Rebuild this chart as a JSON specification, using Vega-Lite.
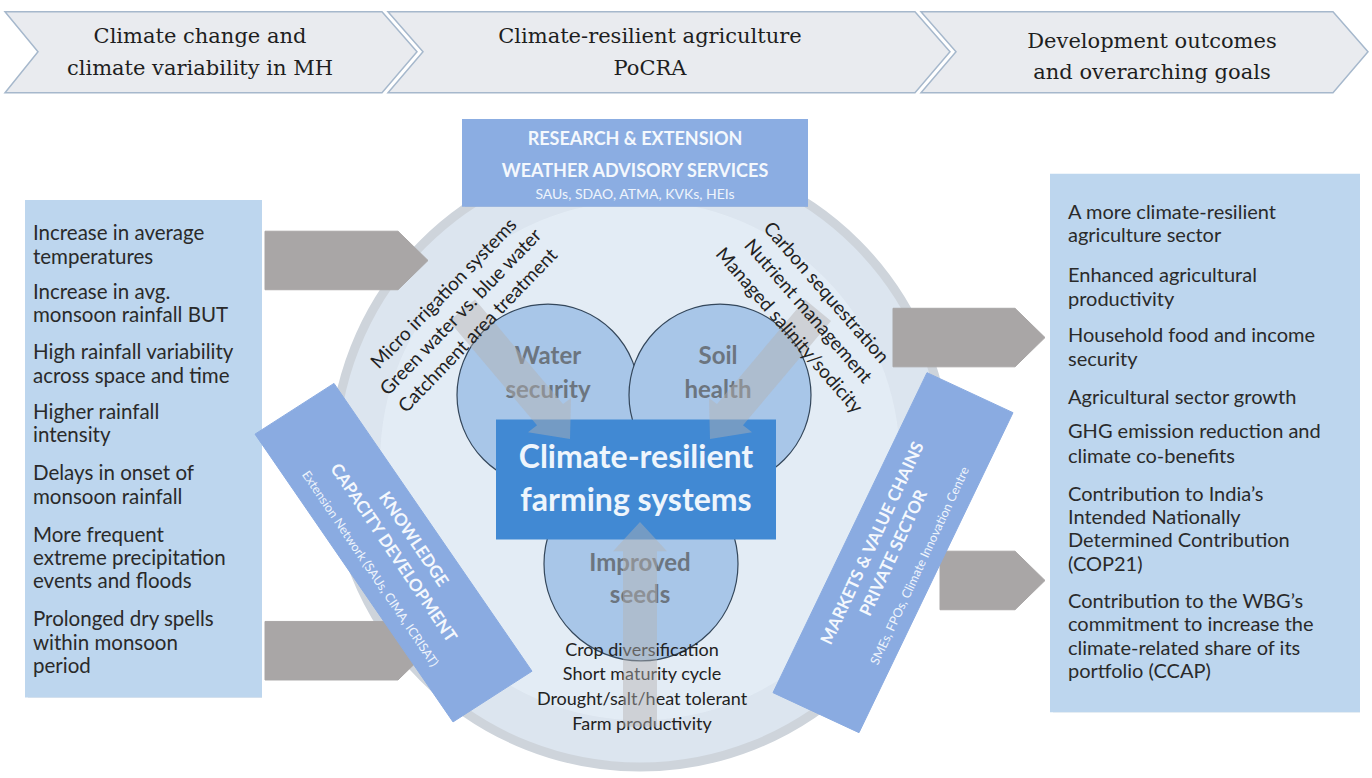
{
  "$schema": "https://vega.github.io/schema/vega-lite/v6.json",
  "width": 1372,
  "height": 778,
  "autosize": {"type": "fit", "contains": "padding"},
  "padding": 0,
  "background": "#ffffff",
  "config": {"view": {"stroke": null}},
  "datasets": {
    "polys": [
      {"grp": "chev", "id": "c1", "ord": 1, "x": 5, "y": 12},
      {"grp": "chev", "id": "c1", "ord": 2, "x": 382, "y": 12},
      {"grp": "chev", "id": "c1", "ord": 3, "x": 417, "y": 53},
      {"grp": "chev", "id": "c1", "ord": 4, "x": 382, "y": 95},
      {"grp": "chev", "id": "c1", "ord": 5, "x": 5, "y": 95},
      {"grp": "chev", "id": "c1", "ord": 6, "x": 38, "y": 53},
      {"grp": "chev", "id": "c2", "ord": 1, "x": 388, "y": 12},
      {"grp": "chev", "id": "c2", "ord": 2, "x": 915, "y": 12},
      {"grp": "chev", "id": "c2", "ord": 3, "x": 950, "y": 53},
      {"grp": "chev", "id": "c2", "ord": 4, "x": 915, "y": 95},
      {"grp": "chev", "id": "c2", "ord": 5, "x": 388, "y": 95},
      {"grp": "chev", "id": "c2", "ord": 6, "x": 423, "y": 53},
      {"grp": "chev", "id": "c3", "ord": 1, "x": 921, "y": 12},
      {"grp": "chev", "id": "c3", "ord": 2, "x": 1333, "y": 12},
      {"grp": "chev", "id": "c3", "ord": 3, "x": 1368, "y": 53},
      {"grp": "chev", "id": "c3", "ord": 4, "x": 1333, "y": 95},
      {"grp": "chev", "id": "c3", "ord": 5, "x": 921, "y": 95},
      {"grp": "chev", "id": "c3", "ord": 6, "x": 956, "y": 53},
      {"grp": "garrow", "id": "a1", "ord": 1, "x": 265, "y": 237},
      {"grp": "garrow", "id": "a1", "ord": 2, "x": 398, "y": 237},
      {"grp": "garrow", "id": "a1", "ord": 3, "x": 428, "y": 267},
      {"grp": "garrow", "id": "a1", "ord": 4, "x": 398, "y": 297},
      {"grp": "garrow", "id": "a1", "ord": 5, "x": 265, "y": 297},
      {"grp": "garrow", "id": "a2", "ord": 1, "x": 265, "y": 637},
      {"grp": "garrow", "id": "a2", "ord": 2, "x": 398, "y": 637},
      {"grp": "garrow", "id": "a2", "ord": 3, "x": 428, "y": 667},
      {"grp": "garrow", "id": "a2", "ord": 4, "x": 398, "y": 697},
      {"grp": "garrow", "id": "a2", "ord": 5, "x": 265, "y": 697},
      {"grp": "garrow", "id": "a3", "ord": 1, "x": 893, "y": 316},
      {"grp": "garrow", "id": "a3", "ord": 2, "x": 1015, "y": 316},
      {"grp": "garrow", "id": "a3", "ord": 3, "x": 1045, "y": 346},
      {"grp": "garrow", "id": "a3", "ord": 4, "x": 1015, "y": 376},
      {"grp": "garrow", "id": "a3", "ord": 5, "x": 893, "y": 376},
      {"grp": "garrow", "id": "a4", "ord": 1, "x": 940, "y": 565},
      {"grp": "garrow", "id": "a4", "ord": 2, "x": 1015, "y": 565},
      {"grp": "garrow", "id": "a4", "ord": 3, "x": 1045, "y": 595},
      {"grp": "garrow", "id": "a4", "ord": 4, "x": 1015, "y": 625},
      {"grp": "garrow", "id": "a4", "ord": 5, "x": 940, "y": 625},
      {"grp": "farrow", "id": "f1", "ord": 1, "x": 475, "y": 307},
      {"grp": "farrow", "id": "f1", "ord": 2, "x": 563, "y": 414},
      {"grp": "farrow", "id": "f1", "ord": 3, "x": 571, "y": 408},
      {"grp": "farrow", "id": "f1", "ord": 4, "x": 570, "y": 450},
      {"grp": "farrow", "id": "f1", "ord": 5, "x": 528, "y": 443},
      {"grp": "farrow", "id": "f1", "ord": 6, "x": 537, "y": 436},
      {"grp": "farrow", "id": "f1", "ord": 7, "x": 449, "y": 329},
      {"grp": "farrow", "id": "f2", "ord": 1, "x": 805, "y": 307},
      {"grp": "farrow", "id": "f2", "ord": 2, "x": 717, "y": 414},
      {"grp": "farrow", "id": "f2", "ord": 3, "x": 709, "y": 408},
      {"grp": "farrow", "id": "f2", "ord": 4, "x": 710, "y": 450},
      {"grp": "farrow", "id": "f2", "ord": 5, "x": 752, "y": 443},
      {"grp": "farrow", "id": "f2", "ord": 6, "x": 743, "y": 436},
      {"grp": "farrow", "id": "f2", "ord": 7, "x": 831, "y": 329},
      {"grp": "farrow", "id": "f3", "ord": 1, "x": 623, "y": 745},
      {"grp": "farrow", "id": "f3", "ord": 2, "x": 623, "y": 565},
      {"grp": "farrow", "id": "f3", "ord": 3, "x": 613, "y": 565},
      {"grp": "farrow", "id": "f3", "ord": 4, "x": 640, "y": 535},
      {"grp": "farrow", "id": "f3", "ord": 5, "x": 667, "y": 565},
      {"grp": "farrow", "id": "f3", "ord": 6, "x": 657, "y": 565},
      {"grp": "farrow", "id": "f3", "ord": 7, "x": 657, "y": 745},
      {"grp": "band", "id": "k", "ord": 1, "x": 255, "y": 445},
      {"grp": "band", "id": "k", "ord": 2, "x": 334, "y": 393},
      {"grp": "band", "id": "k", "ord": 3, "x": 532, "y": 688},
      {"grp": "band", "id": "k", "ord": 4, "x": 453, "y": 740},
      {"grp": "band", "id": "m", "ord": 1, "x": 927, "y": 382},
      {"grp": "band", "id": "m", "ord": 2, "x": 1013, "y": 423},
      {"grp": "band", "id": "m", "ord": 3, "x": 859, "y": 751},
      {"grp": "band", "id": "m", "ord": 4, "x": 773, "y": 710}
    ],
    "rects": [
      {"grp": "lightbox", "x": 25, "x2": 262, "y": 205, "y2": 715},
      {"grp": "lightbox", "x": 1050, "x2": 1360, "y": 178, "y2": 730},
      {"grp": "research", "x": 462, "x2": 808, "y": 122, "y2": 212},
      {"grp": "center", "x": 496, "x2": 776, "y": 430, "y2": 553}
    ],
    "circles": [
      {"grp": "big", "x": 640, "y": 472},
      {"grp": "venn", "x": 548, "y": 405},
      {"grp": "venn", "x": 720, "y": 405},
      {"grp": "seed", "x": 641, "y": 578}
    ],
    "texts": [
      {"grp": "chev", "x": 200, "y": 38, "label": "Climate change and"},
      {"grp": "chev", "x": 200, "y": 71, "label": "climate variability in MH"},
      {"grp": "chev", "x": 650, "y": 38, "label": "Climate-resilient agriculture"},
      {"grp": "chev", "x": 650, "y": 71, "label": "PoCRA"},
      {"grp": "chev", "x": 1152, "y": 43, "label": "Development outcomes"},
      {"grp": "chev", "x": 1152, "y": 75, "label": "and overarching goals"},
      {"grp": "left", "x": 33, "y": 240, "label": "Increase in average"},
      {"grp": "left", "x": 33, "y": 264, "label": "temperatures"},
      {"grp": "left", "x": 33, "y": 300, "label": "Increase in avg."},
      {"grp": "left", "x": 33, "y": 324, "label": "monsoon rainfall  BUT"},
      {"grp": "left", "x": 33, "y": 362, "label": "High rainfall variability"},
      {"grp": "left", "x": 33, "y": 386, "label": "across space and time"},
      {"grp": "left", "x": 33, "y": 423, "label": "Higher rainfall"},
      {"grp": "left", "x": 33, "y": 447, "label": "intensity"},
      {"grp": "left", "x": 33, "y": 486, "label": "Delays in onset of"},
      {"grp": "left", "x": 33, "y": 510, "label": "monsoon rainfall"},
      {"grp": "left", "x": 33, "y": 549, "label": "More frequent"},
      {"grp": "left", "x": 33, "y": 573, "label": "extreme precipitation"},
      {"grp": "left", "x": 33, "y": 597, "label": "events and floods"},
      {"grp": "left", "x": 33, "y": 636, "label": "Prolonged dry spells"},
      {"grp": "left", "x": 33, "y": 660, "label": "within monsoon"},
      {"grp": "left", "x": 33, "y": 684, "label": "period"},
      {"grp": "right", "x": 1068, "y": 218, "label": "A more climate-resilient"},
      {"grp": "right", "x": 1068, "y": 242, "label": "agriculture sector"},
      {"grp": "right", "x": 1068, "y": 283, "label": "Enhanced agricultural"},
      {"grp": "right", "x": 1068, "y": 307, "label": "productivity"},
      {"grp": "right", "x": 1068, "y": 344, "label": "Household food and income"},
      {"grp": "right", "x": 1068, "y": 369, "label": "security"},
      {"grp": "right", "x": 1068, "y": 408, "label": "Agricultural sector growth"},
      {"grp": "right", "x": 1068, "y": 443, "label": "GHG emission reduction and"},
      {"grp": "right", "x": 1068, "y": 468, "label": "climate co-benefits"},
      {"grp": "right", "x": 1068, "y": 507, "label": "Contribution to India’s"},
      {"grp": "right", "x": 1068, "y": 531, "label": "Intended Nationally"},
      {"grp": "right", "x": 1068, "y": 555, "label": "Determined Contribution"},
      {"grp": "right", "x": 1068, "y": 579, "label": "(COP21)"},
      {"grp": "right", "x": 1068, "y": 617, "label": "Contribution to the WBG’s"},
      {"grp": "right", "x": 1068, "y": 641, "label": "commitment to increase the"},
      {"grp": "right", "x": 1068, "y": 665, "label": "climate-related share of its"},
      {"grp": "right", "x": 1068, "y": 689, "label": "portfolio (CCAP)"},
      {"grp": "research", "x": 635, "y": 143, "label": "RESEARCH & EXTENSION"},
      {"grp": "research", "x": 635, "y": 176, "label": "WEATHER ADVISORY SERVICES"},
      {"grp": "researchsmall", "x": 635, "y": 200, "label": "SAUs, SDAO, ATMA, KVKs, HEIs"},
      {"grp": "venn", "x": 548, "y": 366, "label": "Water"},
      {"grp": "venn", "x": 548, "y": 401, "label": "security"},
      {"grp": "venn", "x": 718, "y": 366, "label": "Soil"},
      {"grp": "venn", "x": 718, "y": 401, "label": "health"},
      {"grp": "venn", "x": 640, "y": 578, "label": "Improved"},
      {"grp": "venn", "x": 640, "y": 611, "label": "seeds"},
      {"grp": "center", "x": 636, "y": 469, "label": "Climate-resilient"},
      {"grp": "center", "x": 636, "y": 514, "label": "farming systems"},
      {"grp": "seedtxt", "x": 642, "y": 667, "label": "Crop diversification"},
      {"grp": "seedtxt", "x": 642, "y": 692, "label": "Short maturity cycle"},
      {"grp": "seedtxt", "x": 642, "y": 718, "label": "Drought/salt/heat tolerant"},
      {"grp": "seedtxt", "x": 642, "y": 743, "label": "Farm productivity"},
      {"grp": "rotl", "x": 444, "y": 301, "label": "Micro irrigation systems"},
      {"grp": "rotl", "x": 461, "y": 320, "label": "Green water vs. blue water"},
      {"grp": "rotl", "x": 478, "y": 339, "label": "Catchment area treatment"},
      {"grp": "rotr", "x": 826, "y": 300, "label": "Carbon sequestration"},
      {"grp": "rotr", "x": 808, "y": 319, "label": "Nutrient management"},
      {"grp": "rotr", "x": 789, "y": 339, "label": "Managed salinity/sodicity"},
      {"grp": "know", "x": 413, "y": 553, "label": "KNOWLEDGE"},
      {"grp": "know", "x": 393, "y": 567, "label": "CAPACITY DEVELOPMENT"},
      {"grp": "knowsmall", "x": 370, "y": 583, "label": "Extension Network (SAUs, CIMA, ICRISAT)"},
      {"grp": "mark", "x": 873, "y": 557, "label": "MARKETS & VALUE CHAINS"},
      {"grp": "mark", "x": 894, "y": 567, "label": "PRIVATE SECTOR"},
      {"grp": "marksmall", "x": 920, "y": 580, "label": "SMEs, FPOs, Climate Innovation Centre"}
    ]
  },
  "encoding": {
    "x": {"field": "x", "type": "quantitative", "scale": {"domain": [0, 1372], "nice": false, "zero": false}, "axis": null},
    "y": {"field": "y", "type": "quantitative", "scale": {"domain": [0, 778], "nice": false, "zero": false, "reverse": true}, "axis": null}
  },
  "layer": [
    {
      "data": {"name": "polys"},
      "transform": [{"filter": "datum.grp === 'chev'"}],
      "mark": {"type": "line", "interpolate": "linear-closed", "fill": "#e9ebef", "stroke": "#a6b8cc", "strokeWidth": 1.5},
      "encoding": {"order": {"field": "ord", "type": "quantitative"}, "detail": {"field": "id"}}
    },
    {
      "data": {"name": "texts"},
      "transform": [{"filter": "datum.grp === 'chev'"}],
      "mark": {"type": "text", "font": "DejaVu Serif", "fontSize": 21, "color": "#1e1e1e", "align": "center", "baseline": "middle"},
      "encoding": {"text": {"field": "label"}}
    },
    {
      "data": {"name": "circles"},
      "transform": [{"filter": "datum.grp === 'big'"}],
      "mark": {"type": "point", "shape": "circle", "filled": true, "size": 376000, "fill": "#dce5ef", "stroke": "#ced4db", "strokeWidth": 9, "opacity": 1}
    },
    {
      "data": {"name": "circles"},
      "transform": [{"filter": "datum.grp === 'big'"}],
      "mark": {"type": "point", "shape": "circle", "filled": true, "size": 270000, "fill": "#e5edf6", "opacity": 0.8}
    },
    {
      "data": {"name": "polys"},
      "transform": [{"filter": "datum.grp === 'garrow'"}],
      "mark": {"type": "line", "interpolate": "linear-closed", "fill": "#a9a6a6", "stroke": "#a9a6a6", "strokeWidth": 1},
      "encoding": {"order": {"field": "ord", "type": "quantitative"}, "detail": {"field": "id"}}
    },
    {
      "data": {"name": "rects"},
      "transform": [{"filter": "datum.grp !== 'center'"}],
      "mark": {"type": "rect", "fill": "#9aa3ad", "opacity": 0.45, "xOffset": 3, "yOffset": 3},
      "encoding": {"x2": {"field": "x2"}, "y2": {"field": "y2"}}
    },
    {
      "data": {"name": "rects"},
      "transform": [{"filter": "datum.grp === 'lightbox'"}],
      "mark": {"type": "rect", "fill": "#bdd6ee"},
      "encoding": {"x2": {"field": "x2"}, "y2": {"field": "y2"}}
    },
    {
      "data": {"name": "rects"},
      "transform": [{"filter": "datum.grp === 'research'"}],
      "mark": {"type": "rect", "fill": "#8badE2"},
      "encoding": {"x2": {"field": "x2"}, "y2": {"field": "y2"}}
    },
    {
      "data": {"name": "circles"},
      "transform": [{"filter": "datum.grp === 'venn'"}],
      "mark": {"type": "point", "shape": "circle", "filled": true, "size": 33124, "fill": "#a8c6e8", "stroke": "#34475b", "strokeWidth": 1.2, "opacity": 1}
    },
    {
      "data": {"name": "circles"},
      "transform": [{"filter": "datum.grp === 'seed'"}],
      "mark": {"type": "point", "shape": "circle", "filled": true, "size": 37636, "fill": "#a8c6e8", "stroke": "#34475b", "strokeWidth": 1.2, "opacity": 1}
    },
    {
      "data": {"name": "texts"},
      "transform": [{"filter": "datum.grp === 'venn'"}],
      "mark": {"type": "text", "font": "Lato", "fontSize": 24, "fontWeight": "bold", "color": "#6c757f", "align": "center", "baseline": "middle"},
      "encoding": {"text": {"field": "label"}}
    },
    {
      "data": {"name": "rects"},
      "transform": [{"filter": "datum.grp === 'center'"}],
      "mark": {"type": "rect", "fill": "#4189d3"},
      "encoding": {"x2": {"field": "x2"}, "y2": {"field": "y2"}}
    },
    {
      "data": {"name": "texts"},
      "transform": [{"filter": "datum.grp === 'center'"}],
      "mark": {"type": "text", "font": "Lato", "fontSize": 32, "fontWeight": "bold", "color": "#eef5fc", "align": "center", "baseline": "middle"},
      "encoding": {"text": {"field": "label"}}
    },
    {
      "data": {"name": "texts"},
      "transform": [{"filter": "datum.grp === 'seedtxt'"}],
      "mark": {"type": "text", "font": "Lato", "fontSize": 18, "color": "#222222", "align": "center", "baseline": "middle"},
      "encoding": {"text": {"field": "label"}}
    },
    {
      "data": {"name": "polys"},
      "transform": [{"filter": "datum.grp === 'farrow'"}],
      "mark": {"type": "line", "interpolate": "linear-closed", "fill": "#b3b1b1", "stroke": null, "strokeWidth": 0, "opacity": 0.45},
      "encoding": {"order": {"field": "ord", "type": "quantitative"}, "detail": {"field": "id"}}
    },
    {
      "data": {"name": "texts"},
      "transform": [{"filter": "datum.grp === 'rotl'"}],
      "mark": {"type": "text", "font": "Lato", "fontSize": 19, "color": "#222222", "align": "center", "baseline": "middle", "angle": 314},
      "encoding": {"text": {"field": "label"}}
    },
    {
      "data": {"name": "texts"},
      "transform": [{"filter": "datum.grp === 'rotr'"}],
      "mark": {"type": "text", "font": "Lato", "fontSize": 19, "color": "#222222", "align": "center", "baseline": "middle", "angle": 49},
      "encoding": {"text": {"field": "label"}}
    },
    {
      "data": {"name": "polys"},
      "transform": [{"filter": "datum.grp === 'band'"}],
      "mark": {"type": "line", "interpolate": "linear-closed", "fill": "#8aabe1", "stroke": "#8aabe1", "strokeWidth": 1},
      "encoding": {"order": {"field": "ord", "type": "quantitative"}, "detail": {"field": "id"}}
    },
    {
      "data": {"name": "texts"},
      "transform": [{"filter": "datum.grp === 'know'"}],
      "mark": {"type": "text", "font": "Lato", "fontSize": 17, "fontWeight": "bold", "color": "#f4f8fd", "align": "center", "baseline": "middle", "angle": 56},
      "encoding": {"text": {"field": "label"}}
    },
    {
      "data": {"name": "texts"},
      "transform": [{"filter": "datum.grp === 'knowsmall'"}],
      "mark": {"type": "text", "font": "Lato", "fontSize": 12.5, "color": "#eef4fc", "align": "center", "baseline": "middle", "angle": 56},
      "encoding": {"text": {"field": "label"}}
    },
    {
      "data": {"name": "texts"},
      "transform": [{"filter": "datum.grp === 'mark'"}],
      "mark": {"type": "text", "font": "Lato", "fontSize": 17, "fontWeight": "bold", "color": "#f4f8fd", "align": "center", "baseline": "middle", "angle": 295},
      "encoding": {"text": {"field": "label"}}
    },
    {
      "data": {"name": "texts"},
      "transform": [{"filter": "datum.grp === 'marksmall'"}],
      "mark": {"type": "text", "font": "Lato", "fontSize": 12.5, "color": "#eef4fc", "align": "center", "baseline": "middle", "angle": 295},
      "encoding": {"text": {"field": "label"}}
    },
    {
      "data": {"name": "texts"},
      "transform": [{"filter": "datum.grp === 'research'"}],
      "mark": {"type": "text", "font": "Lato", "fontSize": 18, "fontWeight": "bold", "color": "#f4f8fd", "align": "center", "baseline": "middle"},
      "encoding": {"text": {"field": "label"}}
    },
    {
      "data": {"name": "texts"},
      "transform": [{"filter": "datum.grp === 'researchsmall'"}],
      "mark": {"type": "text", "font": "Lato", "fontSize": 14, "color": "#eef4fc", "align": "center", "baseline": "middle"},
      "encoding": {"text": {"field": "label"}}
    },
    {
      "data": {"name": "texts"},
      "transform": [{"filter": "datum.grp === 'left'"}],
      "mark": {"type": "text", "font": "Lato", "fontSize": 20.5, "color": "#2a2a2a", "align": "left", "baseline": "middle"},
      "encoding": {"text": {"field": "label"}}
    },
    {
      "data": {"name": "texts"},
      "transform": [{"filter": "datum.grp === 'right'"}],
      "mark": {"type": "text", "font": "Lato", "fontSize": 20, "color": "#2a2a2a", "align": "left", "baseline": "middle"},
      "encoding": {"text": {"field": "label"}}
    }
  ]
}
